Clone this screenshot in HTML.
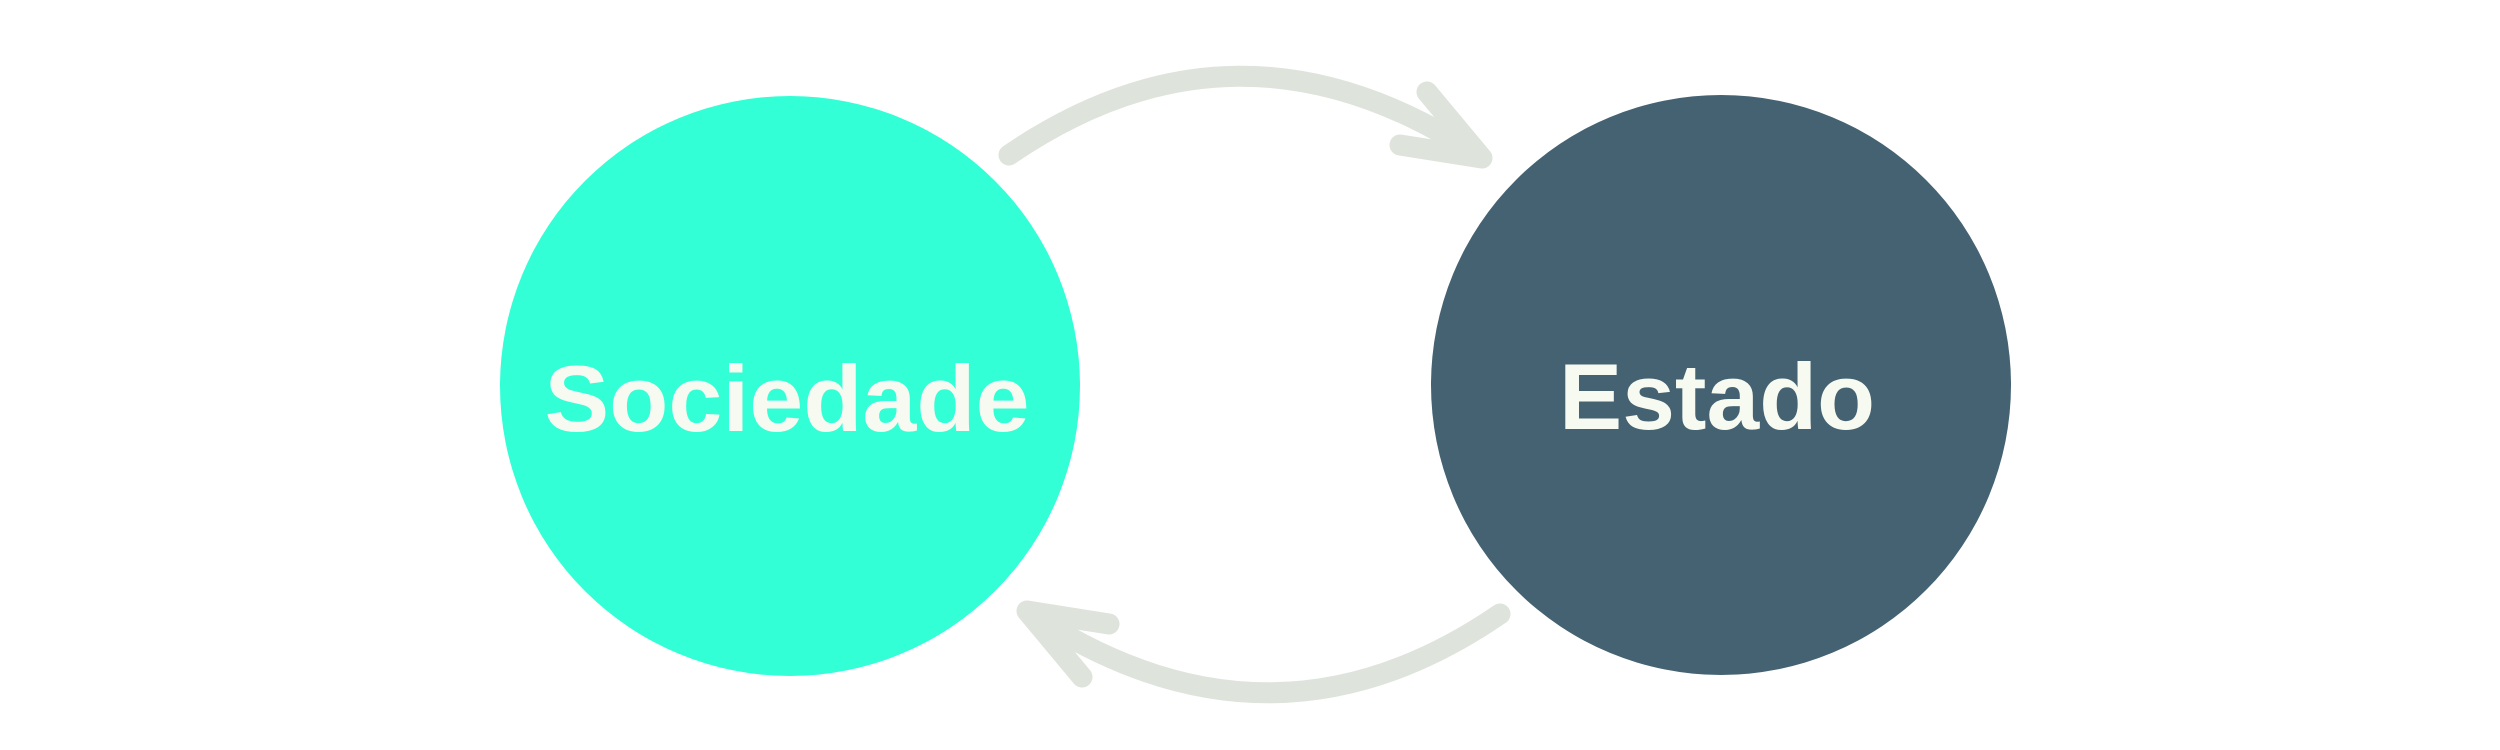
<!DOCTYPE html>
<html><head><style>
html,body{margin:0;padding:0;background:#fff;}
svg{display:block;}
</style></head><body>
<svg width="2500" height="750" viewBox="0 0 2500 750" xmlns="http://www.w3.org/2000/svg">
<circle cx="790" cy="386" r="290" fill="#33ffd6"/>
<circle cx="1721" cy="385" r="290" fill="#456273"/>
<text x="787" y="431" font-family="Liberation Sans, sans-serif" font-weight="bold" font-size="94" fill="#f7faf0" text-anchor="middle" textLength="485" lengthAdjust="spacingAndGlyphs">Sociedade</text>
<text x="1717" y="429" font-family="Liberation Sans, sans-serif" font-weight="bold" font-size="94" fill="#f7faf0" text-anchor="middle" textLength="316" lengthAdjust="spacingAndGlyphs">Estado</text>
<g transform="translate(-5 -12)" fill="none" stroke="#dee3dc" stroke-width="21" stroke-linecap="round" stroke-linejoin="round">
<path d="M1014 167 Q1240 12 1475 162"/>
<path d="M1432 104 L1487 170 L1405 157"/>
</g>
<g transform="rotate(180 1259.5 389) translate(5 -3)" fill="none" stroke="#dee3dc" stroke-width="21" stroke-linecap="round" stroke-linejoin="round">
<path d="M1014 167 Q1240 12 1475 162"/>
<path d="M1432 104 L1487 170 L1405 157"/>
</g>
</svg>
</body></html>
